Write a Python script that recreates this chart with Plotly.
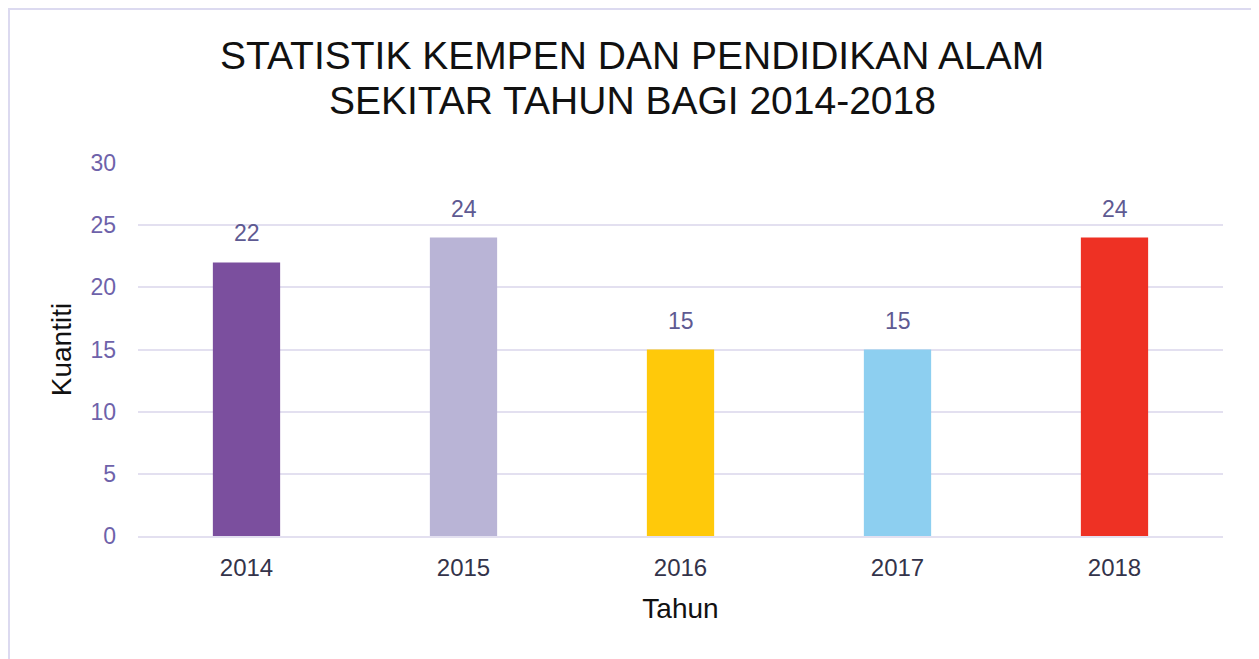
import plotly.graph_objects as go

years = ["2014", "2015", "2016", "2017", "2018"]
quantities = [22, 24, 15, 15, 24]
bar_colors = ["#7B4F9E", "#B9B4D6", "#FFC90A", "#8DCFF0", "#EE3124"]
title_lines = ["STATISTIK KEMPEN DAN PENDIDIKAN ALAM", "SEKITAR TAHUN BAGI 2014-2018"]

fig = go.Figure(go.Bar(
    x=years, y=quantities,
    marker=dict(color=bar_colors, line=dict(width=0)),
    hoverinfo="x+y",
))

annotations = []
for i, q in enumerate(quantities):
    annotations.append(dict(
        x=i, y=q, xref="x", yref="y", text=str(q), showarrow=False,
        yanchor="bottom", yshift=14,
        font=dict(size=23, color="#5E5A92", family="Liberation Sans, Arial"),
    ))
for text, ypos in zip(title_lines, [1.2869, 1.1689]):
    annotations.append(dict(
        x=0.4553, y=ypos, xref="paper", yref="paper", text=text, showarrow=False,
        xanchor="center", yanchor="middle",
        font=dict(size=39, color="#111111", family="Liberation Sans, Arial"),
    ))

fig.update_layout(
    width=1251, height=651,
    paper_bgcolor="white", plot_bgcolor="white",
    margin=dict(l=130, r=36, t=155, b=123),
    bargap=0.69,
    font=dict(family="Liberation Sans, Arial", color="#222"),
    annotations=annotations,
    xaxis=dict(
        type="category", categoryorder="array", categoryarray=years,
        range=[-0.5, len(years) - 0.5],
        title=dict(text="Tahun", font=dict(size=28, color="#111111"), standoff=19),
        tickfont=dict(size=24, color="#33334A"),
        showgrid=False, showline=True, linecolor="#E3E0F0", linewidth=2,
        ticks="", ticklabelstandoff=9,
    ),
    yaxis=dict(
        title=dict(text="Kuantiti", font=dict(size=28, color="#111111"), standoff=10),
        range=[0, 30], dtick=5,
        tickfont=dict(size=23, color="#6E62AA"),
        gridcolor="#E3E0F0", gridwidth=1.5,
        zeroline=False, showline=False, ticks="", ticklabelstandoff=21,
    ),
    shapes=[dict(type="rect", xref="paper", yref="paper",
                 x0=-0.1189, x1=1.2, y0=-0.5, y1=1.4129,
                 line=dict(color="#DCDAF0", width=2), layer="below")],
)

fig.write_html("out.html")
